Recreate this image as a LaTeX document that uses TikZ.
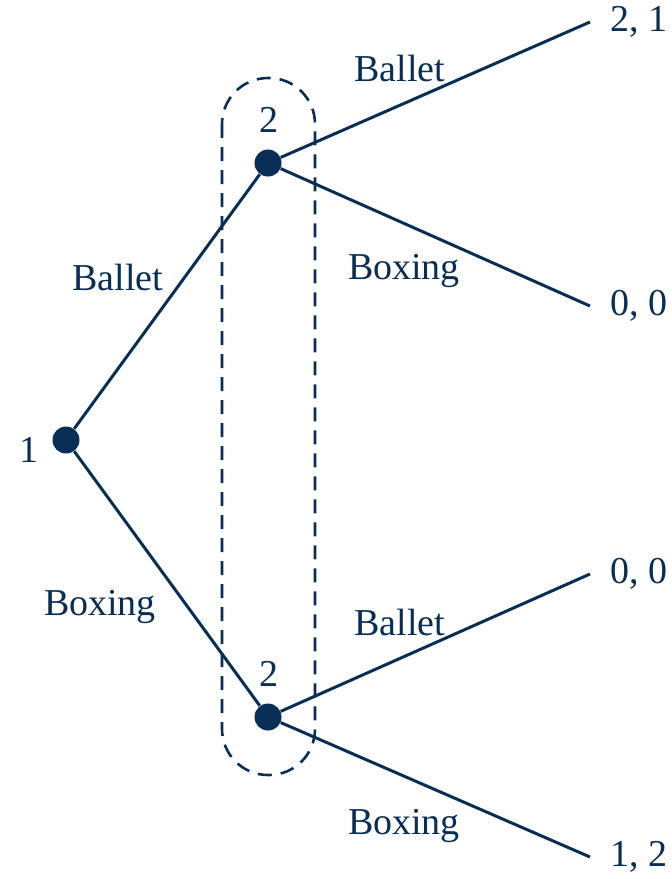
\documentclass[tikz,border=0pt]{standalone}
\usepackage{fontspec}
\setmainfont{Liberation Serif}
\usepackage{tikz}
\definecolor{navy}{RGB}{8,46,86}

\tikzset{
	dot/.style={circle, fill=navy, inner sep=0pt, minimum size=13.5pt},
	branch/.style={line width=1.5pt, draw=navy},
	payoff/.style={anchor=west, inner xsep=10pt, text=navy},
	move/.style={text=navy},
	infoset/.style={line width=1.3pt, draw=navy, dash pattern=on 7pt off 4.5pt, rounded corners=23pt}
}

\begin{document}
\begin{tikzpicture}[x=0.5pt,y=-0.5pt,font=\fontsize{19}{22}\selectfont]
	\useasboundingbox (0,0) rectangle (671,879);
	
	%Informationsmenge Spieler 2
	\draw[infoset] (222,78) rectangle (315,775);
	
	%Entscheidungsknoten
	\node[dot, label={[text=navy, label distance=3.5pt, yshift=-5pt]left:1}] (root) at (66,440) {};
	\node[dot, label={[text=navy, label distance=5pt]88:2}] (up) at (268,163) {};
	\node[dot, label={[text=navy, label distance=5pt]88:2}] (down) at (268,717) {};
	
	%Auszahlungen
	\node[payoff] (uu) at (590,22) {2, 1};
	\node[payoff] (ud) at (590,306) {0, 0};
	\node[payoff] (du) at (590,574) {0, 0};
	\node[payoff] (dd) at (590,857) {1, 2};
	
	%Aeste
	\draw[branch] (root) -- (up);
	\draw[branch] (root) -- (down);
	\draw[branch] (up) -- (uu.west);
	\draw[branch] (up) -- (ud.west);
	\draw[branch] (down) -- (du.west);
	\draw[branch] (down) -- (dd.west);
	
	%Beschriftungen der Zuege
	\node[move] (ballet1) at (118,277) {Ballet};
	\node[move] (boxing1) at (100,607) {Boxing};
	\node[move] (ballet2) at (400,68) {Ballet};
	\node[move] (boxing2) at (404,271) {Boxing};
	\node[move] (ballet3) at (400,622) {Ballet};
	\node[move] (boxing3) at (404,826) {Boxing};
	
\end{tikzpicture}
\end{document}
